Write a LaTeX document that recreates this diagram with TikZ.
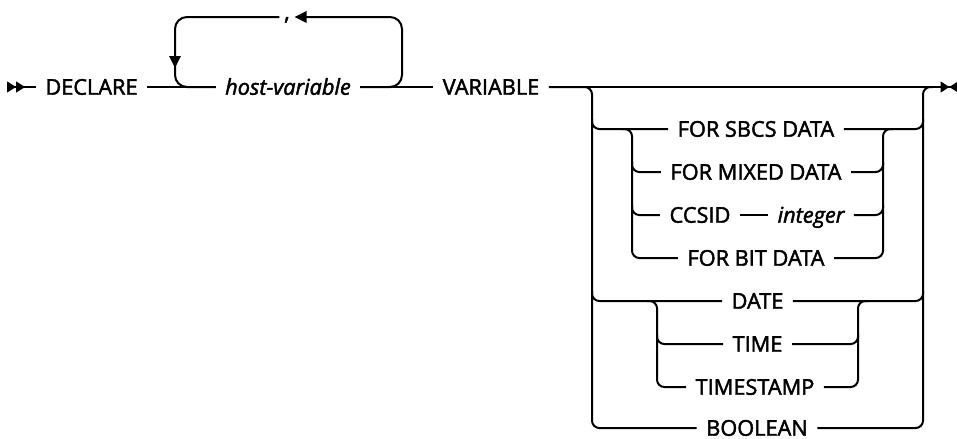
\documentclass[tikz,border=0pt]{standalone}
\usepackage{fontspec}
\setmainfont{Open Sans}[RawFeature={embolden=2}]
\usetikzlibrary{arrows.meta,calc}

\begin{document}
\begin{tikzpicture}[
    x=0.75pt, y=-0.75pt,
    rail/.style={line width=1.5pt},
    loop/.style={rail, rounded corners=9pt},
    choice/.style={rail, rounded corners=5.5pt},
    kw/.style={inner xsep=7pt, inner ysep=0pt, text height=11.6pt, text depth=0pt, font=\fontsize{16.3}{19}\selectfont},
    var/.style={kw, font=\fontsize{16.3}{19}\selectfont\itshape},
    tip/.style={-{Triangle[length=9pt,width=8.5pt]}}
]
\useasboundingbox (0,0) rectangle (957,439);

% statement
\node[kw] (declare) at (91.5,87) {DECLARE};
\node[var] (hostvar) at (288,87) {host-variable};
\node[kw] (variable) at (491,87) {VARIABLE};
\node[kw, inner xsep=3.5pt] (comma) at (287,12) {,};

% data types
\node[kw] (sbcs) at (756,129) {FOR SBCS DATA};
\node[kw] (mixed) at (756,172) {FOR MIXED DATA};
\node[kw] (ccsid) at (700,215) {CCSID};
\node[var] (integer) at (811,215) {integer};
\node[kw] (bitdata) at (756,258) {FOR BIT DATA};
\node[kw] (date) at (757.5,301) {DATE};
\node[kw] (time) at (757.5,344) {TIME};
\node[kw] (tstamp) at (755,387) {TIMESTAMP};
\node[kw] (boolean) at (757,428) {BOOLEAN};

\coordinate (entry) at (7,87);
\coordinate (exit) at (958,87);
\coordinate (loopL) at (175,87);
\coordinate (loopR) at (402,87);
\coordinate (loopTL) at (175,17);
\coordinate (loopTR) at (402,17);
\coordinate (outL) at (592,87);
\coordinate (outR) at (923,87);
\coordinate (grpAL) at (632,129);
\coordinate (grpAR) at (883,129);
\coordinate (grpBL) at (657,301);
\coordinate (grpBR) at (858,301);

% main line
\draw[rail, {Triangle[reversed,length=6.8pt,width=8pt]Triangle[reversed,length=6.8pt,width=8pt]}-] (entry) -- (declare);
\draw[rail] (declare) -- (hostvar);
\draw[rail] (hostvar) -- (variable);
\draw[rail, -{Triangle[length=6.5pt,width=8pt]Triangle[reversed,length=6.5pt,width=8pt]}] (variable) -- (exit);

% repeat loop
\draw[loop, tip] (hostvar.east) -- (loopR) -- (loopTR) -- (comma.east |- loopTR);
\draw[loop, tip] (comma.west |- loopTL) -- (loopTL) -- ($(loopL)+(0,-19)$);
\draw[loop] ($(loopL)+(0,-30)$) -- (loopL) -- (hostvar.west);

% outer choice
\draw[choice] (variable.east) -- (outL) -- (outL |- boolean) -- (boolean.west);
\draw[choice] (boolean.east) -- (outR |- boolean) -- (outR) -- ($(outR)+(10,0)$);
\foreach \r in {sbcs, date} {
  \draw[choice] ($(outL |- \r)+(0,-10)$) -- (outL |- \r) -- (\r.west);
  \draw[choice] (\r.east) -- (outR |- \r) -- ($(outR |- \r)+(0,-10)$);
}

% character options
\draw[choice] ($(grpAL)+(-10,0)$) -- (grpAL) -- (grpAL |- bitdata) -- (bitdata.west);
\draw[choice] (bitdata.east) -- (grpAR |- bitdata) -- (grpAR) -- ($(grpAR)+(10,0)$);
\foreach \a/\b in {mixed/mixed, ccsid/integer} {
  \draw[choice] ($(grpAL |- \a)+(0,-10)$) -- (grpAL |- \a) -- (\a.west);
  \draw[choice] (\b.east) -- (grpAR |- \b) -- ($(grpAR |- \b)+(0,-10)$);
}
\draw[rail] (ccsid) -- (integer);

% date/time options
\draw[choice] ($(grpBL)+(-10,0)$) -- (grpBL) -- (grpBL |- tstamp) -- (tstamp.west);
\draw[choice] (tstamp.east) -- (grpBR |- tstamp) -- (grpBR) -- ($(grpBR)+(10,0)$);
\draw[choice] ($(grpBL |- time)+(0,-10)$) -- (grpBL |- time) -- (time.west);
\draw[choice] (time.east) -- (grpBR |- time) -- ($(grpBR |- time)+(0,-10)$);

\end{tikzpicture}
\end{document}
